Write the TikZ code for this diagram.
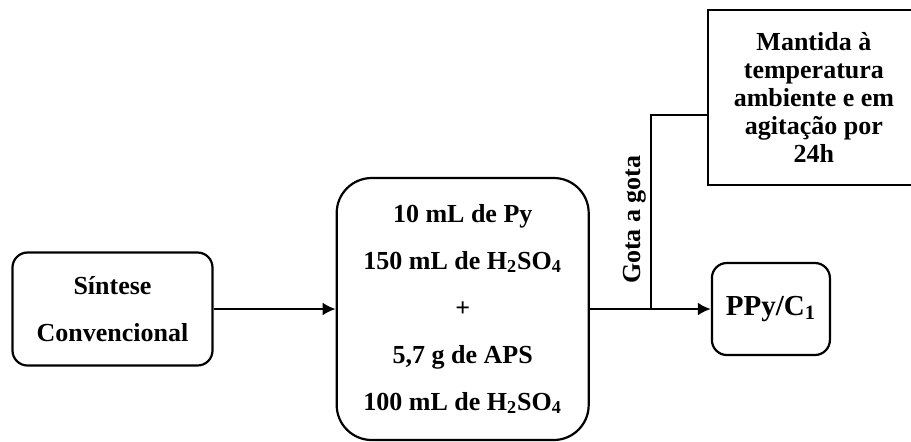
\documentclass[tikz,border=0pt]{standalone}
\usepackage{fontspec}
\setmainfont{Liberation Serif}
\usetikzlibrary{positioning, arrows.meta, calc}

\begin{document}
\begin{tikzpicture}[node distance=61pt, line width=1.1pt,
    >={Latex[length=6.5pt,width=6.5pt]},
    etapa/.style={draw, rounded corners=7.5pt, align=center,
        font=\bfseries\fontsize{13}{23.5}\selectfont}]
    \useasboundingbox (0,0) rectangle (455.5pt,-220.5pt);
    \clip (0,0) rectangle (455.5pt,-220.5pt);

    % Etapas
    \node[etapa, minimum width=100pt, minimum height=56.5pt] (sintese) at (56.25pt,-154.5pt) {Síntese\\Convencional};
    \node[etapa, rounded corners=17.5pt, minimum width=126pt, minimum height=131pt, right=61pt of sintese] (mistura)
        {10 mL de Py\\150 mL de H\textsubscript{2}SO\textsubscript{4}\\+\\5,7 g de APS\\100 mL de H\textsubscript{2}SO\textsubscript{4}};
    \node[etapa, minimum width=59pt, minimum height=46pt, font=\bfseries\fontsize{14.5}{16}\selectfont, right=60.5pt of mistura] (ppy) {PPy/C\textsubscript{1}};
    \node[draw, align=center, font=\bfseries\fontsize{13}{14}\selectfont, minimum width=106pt, minimum height=87.5pt,
        above=38pt of ppy.north west, anchor=south west, xshift=-2pt] (mantida)
        {Mantida à\\temperatura\\ambiente e em\\agitação por\\24h};

    \coordinate (gota) at ($(mistura.east)+(30.75pt,0)$);
    \coordinate (entrada) at ([yshift=-8.75pt]mantida.west);

    % Ligacoes
    \draw[->] (sintese) -- (mistura);
    \draw[->] (mistura) -- (ppy);
    \draw (gota) |- node[pos=0.23, sloped, above, inner sep=2pt, font=\bfseries\fontsize{13}{14}\selectfont] {Gota a gota} (entrada);
\end{tikzpicture}
\end{document}
